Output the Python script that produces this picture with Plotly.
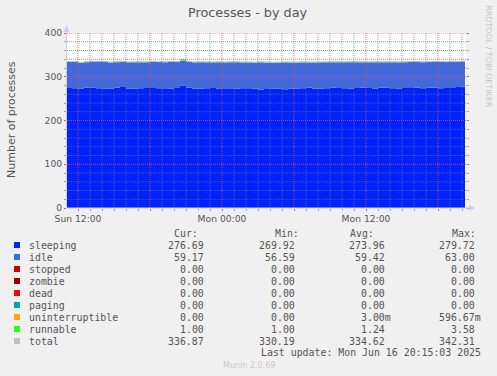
import pandas as pd
import plotly.graph_objects as go

# ---------------- data ----------------
times = list(pd.date_range("2025-06-15 11:00", periods=67, freq="30min")) + [pd.Timestamp("2025-06-16 20:15")]

sleeping = [274.1, 273.5, 272.8, 274.6, 275.2, 273.9, 272.4, 273.1, 274.8, 276.3,
            273.2, 272.7, 273.8, 274.5, 275.9, 273.6, 272.1, 273.4, 274.2, 279.7,
            274.9, 273.3, 272.6, 273.7, 274.4, 273.1, 272.2, 271.8, 272.9, 273.5,
            274.0, 272.6, 270.8, 271.9, 272.7, 273.3, 269.9, 272.4, 273.0, 273.8,
            274.6, 273.2, 272.5, 273.9, 275.1, 274.3, 273.6, 272.8, 274.2, 275.6,
            274.1, 273.4, 274.7, 275.3, 273.8, 272.9, 274.5, 276.1, 274.8, 273.6,
            274.9, 275.4, 273.7, 274.3, 275.8, 276.4, 277.2, 276.7]
idle = [59.8, 60.4, 59.1, 58.7, 59.5, 60.9, 61.3, 59.6, 58.4, 57.9,
        59.7, 60.2, 59.3, 58.8, 58.1, 59.9, 61.2, 60.5, 59.4, 56.6,
        58.9, 59.6, 60.8, 59.2, 58.5, 59.8, 60.7, 61.5, 60.1, 59.3,
        58.7, 59.9, 62.1, 60.6, 59.4, 58.9, 63.0, 60.3, 59.5, 58.8,
        58.2, 59.6, 60.4, 59.1, 58.3, 59.0, 59.7, 60.5, 59.2, 57.8,
        58.9, 59.6, 58.7, 58.1, 59.4, 60.2, 58.8, 57.6, 58.9, 59.7,
        58.6, 58.3, 59.9, 59.2, 58.4, 58.0, 57.4, 59.17]
stopped = [0.0] * 68
zombie = [0.0] * 68
dead = [0.0] * 68
paging = [0.0] * 68
uninterruptible = [0.0] * 68
runnable = [1.0, 1.2, 1.0, 1.5, 1.1, 1.0, 1.3, 1.0, 1.8, 1.1,
            1.0, 1.4, 1.2, 1.0, 1.6, 1.0, 1.1, 1.3, 1.0, 3.58,
            1.2, 1.0, 1.1, 1.4, 1.0, 1.2, 1.0, 1.1, 1.5, 1.0,
            1.3, 1.0, 1.1, 1.2, 1.0, 1.4, 1.0, 1.1, 1.0, 1.6,
            1.2, 1.0, 1.1, 1.3, 1.0, 1.2, 1.0, 1.4, 1.1, 1.0,
            1.2, 1.5, 1.0, 1.1, 1.3, 1.0, 1.2, 1.0, 1.1, 1.4,
            1.0, 1.2, 1.1, 1.0, 1.3, 1.0, 1.1, 1.0]

series_names = ["sleeping", "idle", "stopped", "zombie", "dead", "paging",
                "uninterruptible", "runnable", "total"]
series_colors = ["#0022ff", "#4169e1", "#cc0000", "#990000", "#ff0000", "#00aaaa",
                 "#ffa500", "#22ff22", "#c0c0c0"]
cur_vals = ["276.69", "59.17", "0.00", "0.00", "0.00", "0.00", "0.00", "1.00", "336.87"]
min_vals = ["269.92", "56.59", "0.00", "0.00", "0.00", "0.00", "0.00", "1.00", "330.19"]
avg_vals = ["273.96", "59.42", "0.00", "0.00", "0.00", "0.00", "3.00m", "1.24", "334.62"]
max_vals = ["279.72", "63.00", "0.00", "0.00", "0.00", "0.00", "596.67m", "3.58", "342.31"]

x_tick_vals = ["2025-06-15 12:00", "2025-06-15 18:00", "2025-06-16 00:00",
               "2025-06-16 06:00", "2025-06-16 12:00", "2025-06-16 18:00"]
x_tick_text = ["Sun 12:00", "", "Mon 00:00", "", "Mon 12:00", ""]
y_tick_vals = [0, 100, 200, 300, 400]

title_text = "Processes - by day"
y_title = "Number of processes"
last_update = "Last update: Mon Jun 16 20:15:03 2025"
x_range = ["2025-06-15 11:05", "2025-06-16 20:20"]

# ---------------- layout helpers ----------------
W, H = 497, 376
L, R, T, B = 67, 466, 33, 208


def px(x):
    return (x - L) / (R - L)


def py(y):
    return (B - y) / (B - T)


fig = go.Figure()

stack_data = [sleeping, idle, stopped, zombie, dead, paging, uninterruptible, runnable]
for name, col, vals in zip(series_names[:-1], series_colors[:-1], stack_data):
    fig.add_trace(go.Scatter(
        x=times, y=vals, name=name, stackgroup="s", mode="lines",
        line=dict(width=0, shape="hv", color=col), fillcolor=col,
        hoverinfo="skip", showlegend=False))

total = [sum(v) for v in zip(*stack_data)]
fig.add_trace(go.Scatter(x=times, y=total, mode="lines",
                         line=dict(width=1, shape="hv", color="#c0c0c0"),
                         showlegend=False, hoverinfo="skip"))

shapes = []
minor_col = "rgba(110,110,110,0.7)"
major_col = "rgba(250,70,70,0.85)"
# horizontal grid
for v in range(20, 401, 20):
    col = major_col if v % 100 == 0 else minor_col
    shapes.append(dict(type="line", xref="paper", yref="y", x0=0, x1=1, y0=v, y1=v,
                       line=dict(color=col, width=1, dash="1px,1px"), layer="above"))
# vertical grid (hourly)
start = pd.Timestamp("2025-06-15 12:00")
for h in range(-1, 33):
    t = start + pd.Timedelta(hours=h)
    if t < pd.Timestamp(x_range[0]) or t > pd.Timestamp(x_range[1]):
        continue
    col = major_col if t.hour % 6 == 0 else minor_col
    shapes.append(dict(type="line", xref="x", yref="paper", x0=t, x1=t, y0=0, y1=1,
                       line=dict(color=col, width=1, dash="1px,1px"), layer="above"))

axis_col = "#c6cdee"
# axis lines
shapes.append(dict(type="line", xref="paper", yref="paper", x0=px(67), x1=px(470),
                   y0=py(208), y1=py(208), line=dict(color=axis_col, width=1), layer="above"))
shapes.append(dict(type="line", xref="paper", yref="paper", x0=px(66.5), x1=px(66.5),
                   y0=py(208), y1=py(29), line=dict(color=axis_col, width=1), layer="above"))
# arrows
shapes.append(dict(type="path", xref="paper", yref="paper",
                   path=f"M {px(63.5)} {py(32)} L {px(69.5)} {py(32)} L {px(66.5)} {py(25.5)} Z",
                   fillcolor=axis_col, line=dict(width=0), layer="above"))
shapes.append(dict(type="path", xref="paper", yref="paper",
                   path=f"M {px(469)} {py(205)} L {px(469)} {py(211)} L {px(475)} {py(208)} Z",
                   fillcolor=axis_col, line=dict(width=0), layer="above"))

# legend swatches
row_y0 = 245
row_step = 12
for i, col in enumerate(series_colors):
    yc = row_y0 + i * row_step
    shapes.append(dict(type="rect", xref="paper", yref="paper",
                       x0=px(14), x1=px(20), y0=py(yc + 3), y1=py(yc - 3),
                       fillcolor=col, line=dict(width=0)))

mono = dict(family="DejaVu Sans Mono", size=9.9, color="#555555")
ann = []


def text(x, y, s, anchor="left", font=mono, **kw):
    ann.append(dict(xref="paper", yref="paper", x=px(x), y=py(y), text=s,
                    showarrow=False, xanchor=anchor, yanchor="middle", font=font, **kw))


# title
text(248, 13, title_text, anchor="center",
     font=dict(family="DejaVu Sans", size=12.8, color="#555555"))
# y axis title
text(11, 120, y_title, anchor="center",
     font=dict(family="DejaVu Sans", size=11, color="#555555"), textangle=-90)
# rrdtool
text(488.5, 56, "RRDTOOL / TOBI OETIKER", anchor="center",
     font=dict(family="DejaVu Sans", size=7.9, color="#c4c4c4"), textangle=90)
# munin version
text(248.5, 365, "Munin 2.0.69", anchor="center",
     font=dict(family="DejaVu Sans", size=8, color="#c8c8c8"))

# legend header
text(199.5, 233, "Cur:", anchor="right")
text(300.5, 233, "Min:", anchor="right")
text(375.5, 233, "Avg:", anchor="right")
text(477.5, 233, "Max:", anchor="right")


def fmt(s):
    return s if s.endswith("m") else s + "\u00a0"


for i, name in enumerate(series_names):
    yc = row_y0 + i * row_step
    text(27, yc, name)
    text(212, yc, fmt(cur_vals[i]), anchor="right")
    text(303, yc, fmt(min_vals[i]), anchor="right")
    text(393, yc, fmt(avg_vals[i]), anchor="right")
    text(483, yc, fmt(max_vals[i]), anchor="right")

text(483, 352, last_update, anchor="right")

tick_font = dict(family="DejaVu Sans", size=9.2, color="#555555")
fig.update_layout(
    width=W, height=H,
    margin=dict(l=L, r=W - R, t=T, b=H - B, pad=0),
    paper_bgcolor="#f0f0f0", plot_bgcolor="#ffffff",
    shapes=shapes, annotations=ann,
    xaxis=dict(type="date", range=x_range, tickmode="array", tickvals=x_tick_vals,
               ticktext=x_tick_text, showgrid=False, zeroline=False, showline=False,
               ticks="outside", ticklen=2, tickcolor="rgba(240,70,70,0.8)", tickfont=tick_font,
               minor=dict(ticks="outside", ticklen=2, tickcolor="rgba(140,140,140,0.8)",
                          tickmode="linear", tick0="2025-06-15 12:00", dtick=3600000,
                          showgrid=False)),
    yaxis=dict(range=[0, 400], tickmode="array", tickvals=y_tick_vals, showgrid=False,
               zeroline=False, showline=False, ticks="outside", ticklen=2,
               tickcolor="rgba(240,70,70,0.8)", tickfont=tick_font, mirror="ticks",
               minor=dict(ticks="outside", ticklen=2, tickcolor="rgba(140,140,140,0.8)",
                          tickmode="linear", tick0=0, dtick=20, showgrid=False)),
)

fig.write_html("out.html", config={"displayModeBar": False},
               post_script="document.body.style.margin='0';document.body.style.overflow='hidden';")
